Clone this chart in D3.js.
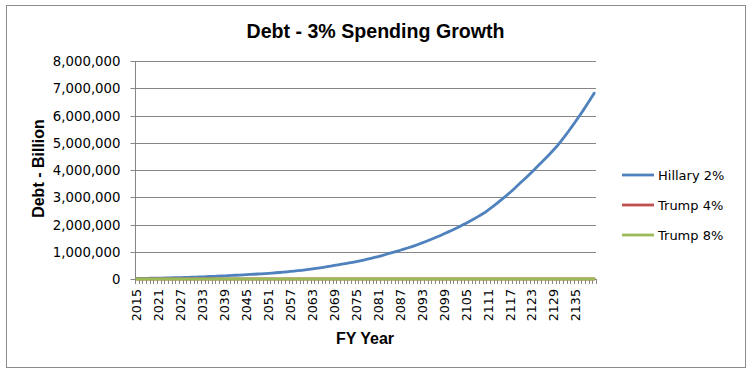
<!DOCTYPE html>
<html>
<head>
<meta charset="utf-8">
<script src="https://cdn.jsdelivr.net/npm/d3@7/dist/d3.min.js"></script>
<style>
  html, body { margin: 0; padding: 0; background: #fff; }
  svg { display: block; }
</style>
</head>
<body>
<svg id="chart" width="753" height="382"></svg>
<script>
const years = d3.range(2015, 2141);
const xTickLabels = [2015, 2021, 2027, 2033, 2039, 2045, 2051, 2057, 2063, 2069, 2075, 2081,
  2087, 2093, 2099, 2105, 2111, 2117, 2123, 2129, 2135];
const yTicks = [0, 1000000, 2000000, 3000000, 4000000, 5000000, 6000000, 7000000, 8000000];
const seriesNames = ["Hillary 2%", "Trump 4%", "Trump 8%"];
const seriesColors = ["#4F81BD", "#C0504D", "#9BBB59"];

const hillary = [
  20000, 21700, 23500, 25500, 27700,
  30000, 32500, 35300, 38300, 41500,
  45000, 48600, 52400, 56600, 61100,
  66000, 70500, 75400, 80500, 86100,
  92000, 97800, 104000, 110600, 117600,
  125000, 131300, 138000, 145000, 152300,
  160000, 167300, 174900, 182900, 191300,
  200000, 209100, 218700, 228600, 239100,
  250000, 262700, 276000, 290000, 304600,
  320000, 336300, 353300, 371300, 390100,
  410000, 430000, 450900, 472900, 495900,
  520000, 542000, 565000, 589000, 614000,
  640000, 667500, 696200, 726200, 757400,
  790000, 824800, 861100, 899000, 938500,
  980000, 1017000, 1055500, 1095400, 1136800,
  1180000, 1226200, 1274300, 1324200, 1376100,
  1430000, 1483800, 1539600, 1597500, 1657600,
  1720000, 1781400, 1845000, 1910900, 1979200,
  2050000, 2120900, 2194300, 2270200, 2348800,
  2430000, 2526000, 2625800, 2729500, 2837300,
  2950000, 3061200, 3176600, 3296400, 3420700,
  3550000, 3671400, 3797000, 3926900, 4061200,
  4200000, 4331500, 4467000, 4606900, 4751100,
  4900000, 5068000, 5241800, 5421600, 5607600,
  5800000, 5990900, 6188000, 6391600, 6601900,
  6820000
];
const trump4 = [
  0,0,0,0,0,0,0,0,0,0,0,0,0,0,0,0,0,0,0,0,0,
  0,0,0,0,0,0,0,0,0,0,0,0,0,0,0,0,0,0,0,0,0,
  0,0,0,0,0,0,0,0,0,0,0,0,0,0,0,0,0,0,0,0,0,
  0,0,0,0,0,0,0,0,0,0,0,0,0,0,0,0,0,0,0,0,0,
  0,0,0,0,0,0,0,0,0,0,0,0,0,0,0,0,0,0,0,0,0,
  0,0,0,0,0,0,0,0,0,0,0,0,0,0,0,0,0,0,0,0,0
];
const trump8 = [
  0,0,0,0,0,0,0,0,0,0,0,0,0,0,0,0,0,0,0,0,0,
  0,0,0,0,0,0,0,0,0,0,0,0,0,0,0,0,0,0,0,0,0,
  0,0,0,0,0,0,0,0,0,0,0,0,0,0,0,0,0,0,0,0,0,
  0,0,0,0,0,0,0,0,0,0,0,0,0,0,0,0,0,0,0,0,0,
  0,0,0,0,0,0,0,0,0,0,0,0,0,0,0,0,0,0,0,0,0,
  0,0,0,0,0,0,0,0,0,0,0,0,0,0,0,0,0,0,0,0,0
];
const seriesValues = [hillary, trump4, trump8];

const svg = d3.select("#chart");
const gridColor = "#868686";
const labelFont = "'DejaVu Sans', sans-serif";
const boldFont = "'Liberation Sans', Arial, sans-serif";

// outer frame
svg.append("rect").attr("x", 6.5).attr("y", 5.5).attr("width", 739).attr("height", 362)
  .attr("fill", "#fff").attr("stroke", "#8c8c8c").attr("stroke-width", 1);

const plot = { left: 135, right: 596, top: 61, bottom: 279 };

const x = d3.scaleBand().domain(years).range([plot.left, plot.right]).padding(0);
const y = d3.scaleLinear().domain([0, 8000000]).range([plot.bottom, plot.top]);
const cx = d => x(d) + x.bandwidth() / 2;

// gridlines
svg.append("g").selectAll("line").data(yTicks.filter(t => t > 0)).join("line")
  .attr("x1", plot.left).attr("x2", plot.right)
  .attr("y1", d => Math.round(y(d)) + 0.5).attr("y2", d => Math.round(y(d)) + 0.5)
  .attr("stroke", gridColor).attr("stroke-width", 1);

// y axis
const yAxis = d3.axisLeft(y).tickValues(yTicks).tickSize(5).tickPadding(10)
  .tickFormat(d3.format(","));
const gy = svg.append("g").attr("transform", `translate(${plot.left + 0.5},0)`).call(yAxis);
gy.select(".domain").attr("stroke", gridColor).attr("d", `M0,${plot.top}V${plot.bottom}`);
gy.selectAll(".tick").attr("transform", d => `translate(0,${Math.round(y(d)) + 0.5})`);
gy.selectAll(".tick line").attr("stroke", gridColor);
gy.selectAll(".tick text").attr("font-family", labelFont).attr("font-size", "13.3px")
  .attr("fill", "#000");

// x axis: tick marks at category boundaries
const boundaries = years.map(d => x(d)).concat([plot.right]);
svg.append("g").selectAll("line").data(boundaries).join("line")
  .attr("x1", d => Math.round(d) + 0.5).attr("x2", d => Math.round(d) + 0.5)
  .attr("y1", plot.bottom).attr("y2", plot.bottom + 5)
  .attr("stroke", gridColor).attr("stroke-width", 1);
svg.append("line").attr("x1", plot.left).attr("x2", plot.right)
  .attr("y1", plot.bottom + 0.5).attr("y2", plot.bottom + 0.5)
  .attr("stroke", gridColor);

svg.append("g").selectAll("text").data(xTickLabels).join("text")
  .attr("transform", d => `translate(${cx(d) + 4.5},${plot.bottom + 10}) rotate(-90)`)
  .attr("text-anchor", "end")
  .attr("font-family", labelFont).attr("font-size", "12.7px").attr("fill", "#000")
  .text(d => d);

// series lines
const line = d3.line().x((d, i) => cx(years[i])).y(d => y(d));
seriesValues.forEach((vals, k) => {
  svg.append("path").datum(vals)
    .attr("fill", "none").attr("stroke", seriesColors[k])
    .attr("stroke-width", 2.8).attr("stroke-linejoin", "round").attr("stroke-linecap", "round")
    .attr("d", line);
});

// titles
svg.append("text").attr("x", 375.5).attr("y", 38).attr("text-anchor", "middle")
  .attr("font-family", boldFont).attr("font-weight", "bold").attr("font-size", "19.6px")
  .attr("fill", "#000").text("Debt - 3% Spending Growth");

svg.append("text").attr("x", 365).attr("y", 343.5).attr("text-anchor", "middle")
  .attr("font-family", boldFont).attr("font-weight", "bold").attr("font-size", "16px")
  .attr("fill", "#000").text("FY Year");

svg.append("text").attr("transform", "translate(44,168.5) rotate(-90)")
  .attr("text-anchor", "middle")
  .attr("font-family", boldFont).attr("font-weight", "bold").attr("font-size", "16px")
  .attr("fill", "#000").text("Debt - Billion");

// legend
const legendY = [175, 205, 235];
const lg = svg.append("g");
seriesNames.forEach((name, k) => {
  lg.append("line").attr("x1", 622).attr("x2", 654)
    .attr("y1", legendY[k]).attr("y2", legendY[k])
    .attr("stroke", seriesColors[k]).attr("stroke-width", 2.8);
  lg.append("text").attr("x", 658).attr("y", legendY[k]).attr("dy", "0.36em")
    .attr("font-family", labelFont).attr("font-size", "13px").attr("fill", "#000")
    .text(name);
});
</script>
</body>
</html>
